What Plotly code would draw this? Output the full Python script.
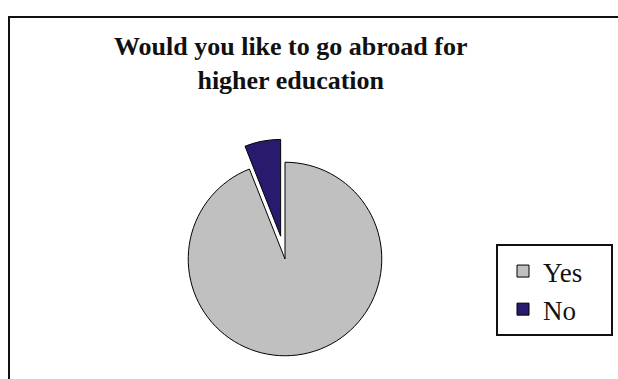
import plotly.graph_objects as go

labels = ["Yes", "No"]
values = [94, 6]
colors = ["#c0c0c0", "#2a1a6e"]
pulls = [0, 0.24]
title_lines = ["Would you like to go abroad for", "higher education"]

W, H = 618, 379

fig = go.Figure()
fig.add_trace(go.Pie(
    labels=labels,
    values=values,
    marker=dict(colors=colors, line=dict(color="#000000", width=1)),
    pull=pulls,
    sort=False,
    direction="clockwise",
    rotation=0,
    textinfo="none",
    hoverinfo="label+percent",
    domain=dict(x=[165 / W, 405 / W], y=[0, (H - 139) / H]),
))

fig.update_layout(
    width=W, height=H,
    margin=dict(l=0, r=0, t=0, b=0),
    paper_bgcolor="white",
    plot_bgcolor="white",
    annotations=[dict(
        text="<b>" + "<br>".join(title_lines) + "</b>",
        xref="paper", yref="paper",
        x=290 / W, xanchor="center",
        y=1 - 30 / H, yanchor="top",
        showarrow=False,
        font=dict(family="Liberation Serif", size=26, color="#111111"),
    )],
    legend=dict(
        x=503 / W, xanchor="left",
        y=1 - 247 / H, yanchor="top",
        bgcolor="rgba(0,0,0,0)",
        borderwidth=0,
        font=dict(family="Liberation Serif", size=27, color="#111111"),
    ),
    shapes=[
        dict(
            type="rect", xref="paper", yref="paper",
            x0=9 / W, x1=1.2, y0=-0.2, y1=1 - 17 / H,
            line=dict(color="#111111", width=2),
            fillcolor="rgba(0,0,0,0)",
        ),
        dict(
            type="rect", xref="paper", yref="paper",
            x0=497 / W, x1=612 / W, y0=1 - 335 / H, y1=1 - 245 / H,
            line=dict(color="#111111", width=2),
            fillcolor="rgba(0,0,0,0)",
        ),
    ],
)

fig.write_html("out.html")
